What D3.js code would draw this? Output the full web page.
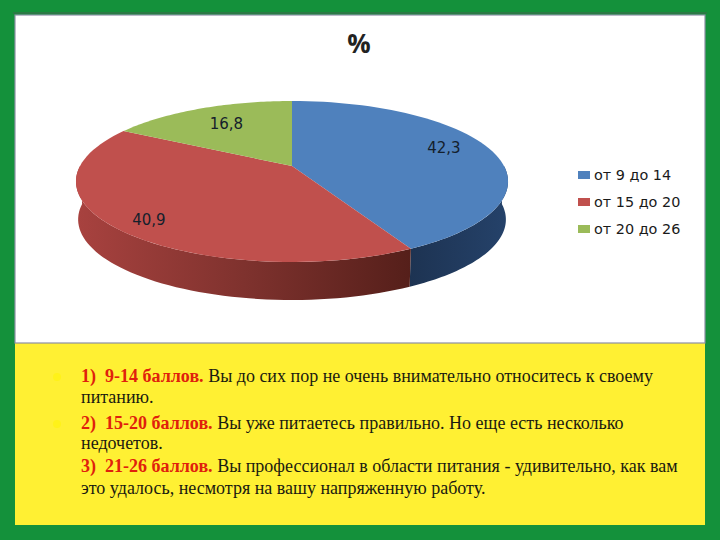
<!DOCTYPE html>
<html>
<head>
<meta charset="utf-8">
<script src="https://cdn.jsdelivr.net/npm/d3@7"></script>
<style>
  html, body { margin: 0; padding: 0; background: #14913b; }
  svg { display: block; }
</style>
</head>
<body>
<div id="chart"></div>
<script>
// chart data
var categories = ["от 9 до 14", "от 15 до 20", "от 20 до 26"];
var values = [42.3, 40.9, 16.8];
var valueLabels = ["42,3", "40,9", "16,8"];
var title = "%";

// text under the chart
var noteHeads = ["1)  9-14 баллов.", "2)  15-20 баллов.", "3)  21-26 баллов."];
var noteBodies = [
  ["Вы до сих пор не очень внимательно относитесь к своему", "питанию."],
  ["Вы уже питаетесь правильно. Но еще есть несколько", "недочетов."],
  ["Вы профессионал в области питания - удивительно, как вам", "это удалось, несмотря на вашу напряженную работу."]
];

var width = 720, height = 540;

// colors
var blue = "#4f81bd";
var red = "#c0504d";
var green = "#9bbb59";
var colors = [blue, red, green];

var svg = d3.select("#chart").append("svg")
  .attr("width", width)
  .attr("height", height);

// background panels
svg.append("rect").attr("width", width).attr("height", height).attr("fill", "#14913b");
svg.append("rect").attr("x", 13).attr("y", 12).attr("width", 694).attr("height", 2).attr("fill", "#2b7a45");
svg.append("rect").attr("x", 15).attr("y", 343).attr("width", 690).attr("height", 182).attr("fill", "#fff033");
svg.append("rect").attr("x", 15).attr("y", 15).attr("width", 690).attr("height", 328)
  .attr("fill", "#ffffff").attr("stroke", "#8d90a6").attr("stroke-width", 1.2);

// wall gradients
var defs = svg.append("defs");
var redWall = defs.append("linearGradient").attr("id", "redWall");
redWall.append("stop").attr("offset", "0%").attr("stop-color", "#a8423f");
redWall.append("stop").attr("offset", "50%").attr("stop-color", "#7f322e");
redWall.append("stop").attr("offset", "100%").attr("stop-color", "#551f1a");
var blueWall = defs.append("linearGradient").attr("id", "blueWall");
blueWall.append("stop").attr("offset", "0%").attr("stop-color", "#1d3352");
blueWall.append("stop").attr("offset", "100%").attr("stop-color", "#25426a");

// pie angles from the values, no sorting so it keeps the chart order
var slices = d3.pie().sort(null).value(function(d) { return d; })(values);

// tilted disc: circle seen in perspective
var cx = 292, cy = 166, rX = 212, rY = 77.5, tilt = -0.1925;
var depth = 38, wallShrink = 0.99;

var project = function(angle, r) {
  var u = Math.sin(angle) * r;
  var v = -Math.cos(angle) * r;
  var w = 1 + tilt * v;
  return [cx + rX * u / w, cy + rY * v / w];
};

var projectLow = function(angle) {
  var p = project(angle, 1);
  return [cx + (p[0] - cx) * wallShrink, p[1] + depth];
};

var rimAngles = function(a0, a1) {
  return d3.range(0, 61).map(function(i) {
    return a0 + (a1 - a0) * i / 60;
  });
};

var line = d3.line();

// side wall, only the front half shows (right edge to left edge)
var wallStart = Math.PI * 0.5, wallEnd = Math.PI * 1.5;
var wallParts = [
  { slice: slices[0], fill: "url(#blueWall)" },
  { slice: slices[1], fill: "url(#redWall)" }
];
wallParts.forEach(function(part) {
  var a0 = Math.max(part.slice.startAngle, wallStart);
  var a1 = Math.min(part.slice.endAngle, wallEnd);
  var angles = rimAngles(a0, a1);
  var pts = angles.map(function(a) { return project(a, 1); })
    .concat(angles.slice().reverse().map(projectLow));
  svg.append("path")
    .attr("d", line(pts) + "Z")
    .attr("fill", part.fill);
});

// top of the disc
slices.forEach(function(s, i) {
  var pts = [[cx, cy]].concat(rimAngles(s.startAngle, s.endAngle).map(function(a) {
    return project(a, 1);
  }));
  svg.append("path")
    .attr("d", line(pts) + "Z")
    .attr("fill", colors[i]);
});

// value labels
var labelRadius = [0.78, 0.85, 0.72];
var labelNudge = [[-3, -4], [3, 2], [3, 1]];
slices.forEach(function(s, i) {
  var p = project((s.startAngle + s.endAngle) / 2, labelRadius[i]);
  svg.append("text")
    .attr("x", p[0] + labelNudge[i][0])
    .attr("y", p[1] + labelNudge[i][1])
    .attr("dy", "0.35em")
    .attr("text-anchor", "middle")
    .style("font-family", "'DejaVu Sans'")
    .style("font-size", "15px")
    .attr("fill", "#14202c")
    .text(valueLabels[i]);
});

// title
svg.append("text")
  .attr("x", 359)
  .attr("y", 53)
  .attr("text-anchor", "middle")
  .style("font-family", "'Open Sans'")
  .style("font-weight", "700")
  .style("font-size", "26px")
  .attr("fill", "#222222")
  .text(title);

// legend
var legendY = d3.scalePoint().domain(categories).range([175, 229]);
categories.forEach(function(c, i) {
  svg.append("rect")
    .attr("x", 578)
    .attr("y", legendY(c) - 4)
    .attr("width", 12)
    .attr("height", 8)
    .attr("fill", colors[i]);
  svg.append("text")
    .attr("x", 594)
    .attr("y", legendY(c))
    .attr("dy", "0.35em")
    .style("font-family", "'DejaVu Sans'")
    .style("font-size", "14.4px")
    .attr("fill", "#1a1a1a")
    .text(c);
});

// notes under the chart
var noteY = [382, 403, 429, 449, 472, 494];
var noteFont = "'Liberation Serif'";
noteHeads.forEach(function(h, i) {
  var first = svg.append("text")
    .attr("x", 81)
    .attr("y", noteY[i * 2])
    .style("font-family", noteFont)
    .style("font-size", "18px")
    .style("white-space", "pre")
    .attr("fill", "#1a1a10");
  first.append("tspan")
    .style("font-weight", "700")
    .attr("fill", "#e0200c")
    .text(h);
  first.append("tspan").text(" " + noteBodies[i][0]);
  svg.append("text")
    .attr("x", 81)
    .attr("y", noteY[i * 2 + 1])
    .style("font-family", noteFont)
    .style("font-size", "18px")
    .attr("fill", "#1a1a10")
    .text(noteBodies[i][1]);
  // faint bullets, only first two have them
  if (i < 2) {
    svg.append("circle")
      .attr("cx", 57)
      .attr("cy", noteY[i * 2] - 5)
      .attr("r", 4)
      .attr("fill", "#fff219");
  }
});
</script>
</body>
</html>
